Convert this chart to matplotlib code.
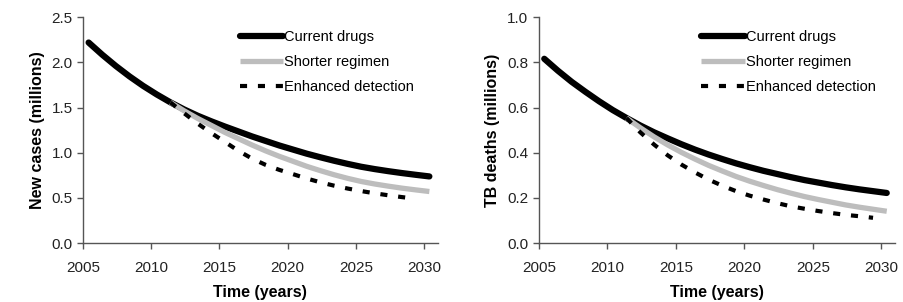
import matplotlib
matplotlib.use('Agg')
import matplotlib.pyplot as plt
import numpy as np

plt.rcParams['font.family'] = ['Liberation Sans', 'DejaVu Sans']

# yearly model output, 2005-2030 (interventions start in 2011)
years = np.arange(2005, 2031)
years_int = np.arange(2011, 2031)

cases_current = [2.220, 2.085, 1.960, 1.845, 1.740, 1.645, 1.558, 1.480, 1.410, 1.348,
                 1.290, 1.235, 1.180, 1.130, 1.080, 1.035, 0.990, 0.950, 0.912, 0.877,
                 0.845, 0.819, 0.796, 0.775, 0.756, 0.738]
cases_shorter = [1.558, 1.465, 1.380, 1.303, 1.225, 1.155, 1.085, 1.020, 0.960, 0.905,
                 0.850, 0.802, 0.757, 0.717, 0.682, 0.654, 0.630, 0.608, 0.589, 0.571]
cases_detect = [1.558, 1.438, 1.323, 1.218, 1.120, 1.020, 0.935, 0.865, 0.810, 0.763,
                0.715, 0.673, 0.636, 0.604, 0.576, 0.551, 0.529, 0.509, 0.490]

deaths_current = [0.816, 0.763, 0.714, 0.670, 0.628, 0.589, 0.554, 0.521, 0.491, 0.464,
                  0.438, 0.414, 0.392, 0.372, 0.353, 0.336, 0.320, 0.306, 0.292, 0.279,
                  0.268, 0.257, 0.247, 0.238, 0.230, 0.222]
deaths_shorter = [0.554, 0.511, 0.471, 0.435, 0.402, 0.372, 0.344, 0.319, 0.295, 0.274,
                  0.255, 0.237, 0.221, 0.206, 0.193, 0.181, 0.169, 0.159, 0.150, 0.141]
deaths_detect = [0.554, 0.491, 0.437, 0.389, 0.348, 0.313, 0.281, 0.254, 0.230, 0.210,
                 0.193, 0.177, 0.163, 0.152, 0.142, 0.133, 0.125, 0.119, 0.112]

labels = ['Current drugs', 'Shorter regimen', 'Enhanced detection']
shift = 0.4  # points sit between category ticks

fig = plt.figure(figsize=(9.04, 3.02), dpi=100)
ax1 = fig.add_axes([0.092, 0.195, 0.392, 0.748])
ax2 = fig.add_axes([0.596, 0.195, 0.394, 0.748])

panels = [
    (ax1, cases_current, cases_shorter, cases_detect, 'New cases (millions)', 2.5, 0.5, 0.425),
    (ax2, deaths_current, deaths_shorter, deaths_detect, 'TB deaths (millions)', 1.0, 0.2, 0.44),
]

for ax, cur, sho, det, ylab, ymax, ystep, legx in panels:
    ax.plot(years + shift, cur, color='black', lw=4.5, solid_capstyle='round',
            label=labels[0], zorder=2)
    ax.plot(years_int + shift, sho, color='#bdbdbd', lw=3.8, solid_capstyle='butt',
            label=labels[1], zorder=3)
    ax.plot(years_int[:len(det)] + shift, det, color='black', lw=3.0,
            linestyle=(0, (1.7, 2.6)), dash_capstyle='butt', label=labels[2], zorder=4)

    ax.set_xlim(2005, 2031)
    ax.set_ylim(0, ymax)
    ax.set_xticks(np.arange(2005, 2031, 5))
    ax.set_yticks(np.arange(0, ymax + 0.001, ystep))
    ax.set_yticklabels(['%.1f' % v for v in np.arange(0, ymax + 0.001, ystep)])
    for s in ['top', 'right']:
        ax.spines[s].set_visible(False)
    for s in ['left', 'bottom']:
        ax.spines[s].set_color('#555555')
        ax.spines[s].set_linewidth(1.0)
    ax.tick_params(direction='out', length=4, width=1.0, color='#555555',
                   labelsize=11, labelcolor='#222222')
    ax.tick_params(axis='x', pad=9)
    ax.set_xlabel('Time (years)', fontsize=11.5, fontweight='bold', labelpad=7)
    ax.set_ylabel(ylab, fontsize=11.5, fontweight='bold', labelpad=5)

    ax.legend(loc='upper left', bbox_to_anchor=(legx, 0.97), frameon=False,
              fontsize=10.5, handlelength=3.0, handletextpad=0.05,
              labelspacing=0.75, borderaxespad=0.0, borderpad=0.4)

fig.savefig('out.png', dpi=100)
